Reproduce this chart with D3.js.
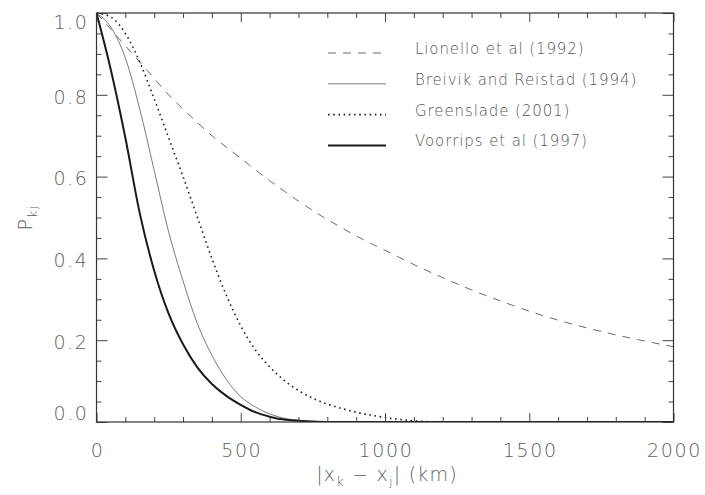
<!DOCTYPE html>
<html>
<head>
<meta charset="utf-8">
<script src="https://cdn.jsdelivr.net/npm/d3@7"></script>
<style>
  body { margin: 0; background: #fff; }
  svg { display: block; }
  text { font-family: "DejaVu Sans", "Liberation Sans", sans-serif; font-weight: 200; fill: #5e5e5e; }
  .tick-label { font-size: 19px; letter-spacing: 1.6px; }
  .legend-text { font-size: 15px; letter-spacing: 0.9px; fill: #555; }
  .axis-title { font-size: 19px; letter-spacing: 1.2px; }
  .axis line { stroke: #444; }
</style>
</head>
<body>
<svg></svg>
<script>
const distKm = [0, 50, 100, 150, 200, 250, 300, 350, 400, 450, 500, 550, 600, 650, 700,
  750, 800, 850, 900, 950, 1000, 1100, 1200, 1300, 1400, 1500, 1600, 1700, 1800, 1900, 2000]

const lionello = [1.0, 0.96, 0.92, 0.88, 0.84, 0.80, 0.765, 0.732, 0.70, 0.672, 0.645, 0.617, 0.59, 0.565, 0.54,
  0.517, 0.495, 0.475, 0.455, 0.437, 0.42, 0.385, 0.353, 0.323, 0.296, 0.271, 0.249, 0.23, 0.213, 0.198, 0.184]
const breivik = [1.0, 0.965, 0.89, 0.765, 0.615, 0.465, 0.345, 0.24, 0.163, 0.104, 0.062, 0.037, 0.02, 0.009, 0.004,
  0.001, 0, 0, 0, 0, 0, 0, 0, 0, 0, 0, 0, 0, 0, 0, 0]
const greenslade = [1.0, 0.99, 0.95, 0.88, 0.79, 0.695, 0.60, 0.50, 0.40, 0.31, 0.235, 0.177, 0.135, 0.102, 0.077,
  0.058, 0.044, 0.033, 0.024, 0.017, 0.011, 0.003, 0, 0, 0, 0, 0, 0, 0, 0, 0]
const voorrips = [1.0, 0.86, 0.695, 0.51, 0.37, 0.265, 0.19, 0.133, 0.093, 0.064, 0.042, 0.024, 0.013, 0.006, 0.003,
  0.001, 0, 0, 0, 0, 0, 0, 0, 0, 0, 0, 0, 0, 0, 0, 0]

const seriesNames = ["Lionello et al (1992)", "Breivik and Reistad (1994)", "Greenslade (2001)", "Voorrips et al (1997)"]

const xMajor = [0, 500, 1000, 1500, 2000]
const xMinor = [100, 200, 300, 400, 600, 700, 800, 900, 1100, 1200, 1300, 1400, 1600, 1700, 1800, 1900]
const yMajor = [0, 0.2, 0.4, 0.6, 0.8, 1.0]
const yMinor = [0.05, 0.1, 0.15, 0.25, 0.3, 0.35, 0.45, 0.5, 0.55, 0.65, 0.7, 0.75, 0.85, 0.9, 0.95]

const styles = [
  { stroke: "#6a6a6a", width: 1, dash: "8,7" },
  { stroke: "#7a7a7a", width: 1, dash: null },
  { stroke: "#222", width: 1.6, dash: "1.6,3.6" },
  { stroke: "#1a1a1a", width: 2, dash: null },
]

const svg = d3.select("svg")
  .attr("width", 705)
  .attr("height", 495)

const plotLeft = 96.5, plotRight = 673.5, plotTop = 13, plotBottom = 422

const x = d3.scaleLinear()
  .domain([0, 2000])
  .range([plotLeft, plotRight])

const y = d3.scaleLinear()
  .domain([0, 1])
  .range([plotBottom, plotTop])

svg.append("defs").append("clipPath")
  .attr("id", "plot")
  .append("rect")
  .attr("x", plotLeft)
  .attr("y", plotTop - 2)
  .attr("width", plotRight - plotLeft)
  .attr("height", plotBottom - plotTop + 2)

// curves
const line = d3.line()
  .x((d) => x(d[0]))
  .y((d) => y(d[1]))
  .curve(d3.curveMonotoneX)

const allSeries = [lionello, breivik, greenslade, voorrips]

svg.append("g")
  .attr("clip-path", "url(#plot)")
  .selectAll("path")
  .data(allSeries)
  .enter()
  .append("path")
  .attr("d", (d) => line(distKm.map((km, i) => [km, d[i]])))
  .attr("fill", "none")
  .attr("stroke", (d, i) => styles[i].stroke)
  .attr("stroke-width", (d, i) => styles[i].width)
  .attr("stroke-dasharray", (d, i) => styles[i].dash)

// frame and inward ticks on all four sides
const addTicks = (axis, tx, ty) => {
  const g = svg.append("g")
    .attr("class", "axis")
    .attr("transform", `translate(${tx}, ${ty})`)
    .call(axis)
  g.select(".domain").remove()
  g.selectAll("text").remove()
}

addTicks(d3.axisBottom(x).tickValues(xMajor).tickSize(-9), 0, plotBottom)
addTicks(d3.axisBottom(x).tickValues(xMinor).tickSize(-5), 0, plotBottom)
addTicks(d3.axisTop(x).tickValues(xMajor).tickSize(-9), 0, plotTop)
addTicks(d3.axisTop(x).tickValues(xMinor).tickSize(-5), 0, plotTop)
addTicks(d3.axisLeft(y).tickValues(yMajor).tickSize(-11), plotLeft, 0)
addTicks(d3.axisLeft(y).tickValues(yMinor).tickSize(-5), plotLeft, 0)
addTicks(d3.axisRight(y).tickValues(yMajor).tickSize(-11), plotRight, 0)
addTicks(d3.axisRight(y).tickValues(yMinor).tickSize(-5), plotRight, 0)

svg.append("rect")
  .attr("x", plotLeft)
  .attr("y", plotTop)
  .attr("width", plotRight - plotLeft)
  .attr("height", plotBottom - plotTop)
  .attr("fill", "none")
  .attr("stroke", "#333")
  .attr("stroke-width", 1.2)

// tick labels
svg.selectAll("text.xlab")
  .data(xMajor)
  .enter()
  .append("text")
  .attr("class", "tick-label xlab")
  .attr("x", (d) => x(d) + 1)
  .attr("y", plotBottom + 35)
  .attr("text-anchor", "middle")
  .text((d) => d)

svg.selectAll("text.ylab")
  .data(yMajor)
  .enter()
  .append("text")
  .attr("class", "tick-label ylab")
  .attr("x", plotLeft - 8)
  .attr("y", (d) => Math.min(Math.max(y(d) + 2, y(1) + 9), y(0) - 9))
  .attr("dy", "0.36em")
  .attr("text-anchor", "end")
  .text((d) => d.toFixed(1))

// axis titles
const xt = svg.append("text")
  .attr("class", "axis-title")
  .attr("x", (plotLeft + plotRight) / 2 + 2)
  .attr("y", 481)
  .attr("text-anchor", "middle")
xt.append("tspan").text("|x")
xt.append("tspan").attr("font-size", "13px").attr("dy", 5).text("k")
xt.append("tspan").attr("dy", -5).text(" \u2212 x")
xt.append("tspan").attr("font-size", "13px").attr("dy", 5).text("j")
xt.append("tspan").attr("dy", -5).text("| (km)")

const yt = svg.append("text")
  .attr("class", "axis-title")
  .attr("transform", `translate(32, ${(plotTop + plotBottom) / 2}) rotate(-90)`)
  .attr("text-anchor", "middle")
yt.append("tspan").text("P")
yt.append("tspan").attr("font-size", "13px").attr("dy", 5).text("kj")

// legend
const legend = svg.selectAll("g.legend")
  .data(seriesNames)
  .enter()
  .append("g")
  .attr("class", "legend")
  .attr("transform", (d, i) => `translate(0, ${53 + i * 30.8})`)

legend.append("line")
  .attr("x1", 328)
  .attr("x2", 386)
  .attr("y1", 0)
  .attr("y2", 0)
  .attr("stroke", (d, i) => styles[i].stroke)
  .attr("stroke-width", (d, i) => styles[i].width)
  .attr("stroke-dasharray", (d, i) => styles[i].dash)

legend.append("text")
  .attr("class", "legend-text")
  .attr("x", 415)
  .attr("y", 1)
  .text((d) => d)
</script>
</body>
</html>
